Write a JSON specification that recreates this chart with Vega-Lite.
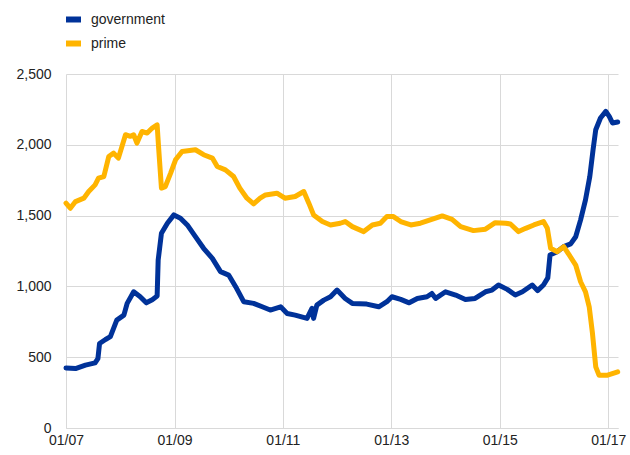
{
  "$schema": "https://vega.github.io/schema/vega-lite/v6.json",
  "autosize": {"type": "none"},
  "padding": {"left": 66, "top": 74, "right": 12, "bottom": 27},
  "width": 552,
  "height": 354,
  "background": "white",
  "config": {
    "view": {"stroke": null},
    "font": "Liberation Sans",
    "axis": {"labelFont": "Liberation Sans", "labelColor": "#222222", "labelFontSize": 14, "gridColor": "#d9d9d9", "gridWidth": 1, "ticks": false, "title": null},
    "legend": {"labelFont": "Liberation Sans", "labelFontSize": 14, "labelColor": "#222222"}
  },
  "data": {
    "values": [
      {"d": "2007-01-01", "s": "government", "v": 424},
      {"d": "2007-03-06", "s": "government", "v": 420},
      {"d": "2007-05-12", "s": "government", "v": 444},
      {"d": "2007-07-16", "s": "government", "v": 460},
      {"d": "2007-08-04", "s": "government", "v": 490},
      {"d": "2007-08-15", "s": "government", "v": 597},
      {"d": "2007-09-24", "s": "government", "v": 625},
      {"d": "2007-10-27", "s": "government", "v": 645},
      {"d": "2007-12-09", "s": "government", "v": 762},
      {"d": "2008-01-26", "s": "government", "v": 797},
      {"d": "2008-02-17", "s": "government", "v": 880},
      {"d": "2008-04-01", "s": "government", "v": 962},
      {"d": "2008-05-15", "s": "government", "v": 927},
      {"d": "2008-06-25", "s": "government", "v": 884},
      {"d": "2008-08-04", "s": "government", "v": 906},
      {"d": "2008-09-06", "s": "government", "v": 932},
      {"d": "2008-09-13", "s": "government", "v": 1186},
      {"d": "2008-10-05", "s": "government", "v": 1375},
      {"d": "2008-11-14", "s": "government", "v": 1446},
      {"d": "2008-12-28", "s": "government", "v": 1505},
      {"d": "2009-02-10", "s": "government", "v": 1482},
      {"d": "2009-03-28", "s": "government", "v": 1434},
      {"d": "2009-05-22", "s": "government", "v": 1351},
      {"d": "2009-07-16", "s": "government", "v": 1269},
      {"d": "2009-09-13", "s": "government", "v": 1198},
      {"d": "2009-11-07", "s": "government", "v": 1104},
      {"d": "2010-01-01", "s": "government", "v": 1080},
      {"d": "2010-02-17", "s": "government", "v": 998},
      {"d": "2010-04-13", "s": "government", "v": 891},
      {"d": "2010-06-18", "s": "government", "v": 880},
      {"d": "2010-08-15", "s": "government", "v": 856},
      {"d": "2010-10-08", "s": "government", "v": 833},
      {"d": "2010-12-17", "s": "government", "v": 856},
      {"d": "2011-01-30", "s": "government", "v": 809},
      {"d": "2011-03-25", "s": "government", "v": 797},
      {"d": "2011-05-01", "s": "government", "v": 786},
      {"d": "2011-06-13", "s": "government", "v": 774},
      {"d": "2011-07-16", "s": "government", "v": 845},
      {"d": "2011-07-27", "s": "government", "v": 774},
      {"d": "2011-08-18", "s": "government", "v": 868},
      {"d": "2011-10-04", "s": "government", "v": 903},
      {"d": "2011-11-18", "s": "government", "v": 927},
      {"d": "2012-01-01", "s": "government", "v": 974},
      {"d": "2012-02-25", "s": "government", "v": 915},
      {"d": "2012-04-13", "s": "government", "v": 880},
      {"d": "2012-07-19", "s": "government", "v": 875},
      {"d": "2012-10-08", "s": "government", "v": 856},
      {"d": "2012-12-02", "s": "government", "v": 892},
      {"d": "2013-01-05", "s": "government", "v": 927},
      {"d": "2013-03-05", "s": "government", "v": 908},
      {"d": "2013-05-01", "s": "government", "v": 884},
      {"d": "2013-06-25", "s": "government", "v": 915},
      {"d": "2013-08-29", "s": "government", "v": 927},
      {"d": "2013-10-01", "s": "government", "v": 950},
      {"d": "2013-10-27", "s": "government", "v": 915},
      {"d": "2014-01-01", "s": "government", "v": 962},
      {"d": "2014-03-10", "s": "government", "v": 939},
      {"d": "2014-05-15", "s": "government", "v": 908},
      {"d": "2014-07-19", "s": "government", "v": 915},
      {"d": "2014-09-27", "s": "government", "v": 962},
      {"d": "2014-11-10", "s": "government", "v": 974},
      {"d": "2014-12-24", "s": "government", "v": 1010},
      {"d": "2015-02-21", "s": "government", "v": 979},
      {"d": "2015-04-16", "s": "government", "v": 939},
      {"d": "2015-06-03", "s": "government", "v": 962},
      {"d": "2015-08-08", "s": "government", "v": 1010},
      {"d": "2015-09-13", "s": "government", "v": 970},
      {"d": "2015-10-23", "s": "government", "v": 1010},
      {"d": "2015-11-21", "s": "government", "v": 1060},
      {"d": "2015-12-06", "s": "government", "v": 1222},
      {"d": "2016-01-23", "s": "government", "v": 1245},
      {"d": "2016-03-07", "s": "government", "v": 1281},
      {"d": "2016-04-23", "s": "government", "v": 1300},
      {"d": "2016-05-27", "s": "government", "v": 1351},
      {"d": "2016-06-29", "s": "government", "v": 1470},
      {"d": "2016-08-01", "s": "government", "v": 1611},
      {"d": "2016-08-30", "s": "government", "v": 1776},
      {"d": "2016-09-21", "s": "government", "v": 1965},
      {"d": "2016-10-09", "s": "government", "v": 2106},
      {"d": "2016-11-10", "s": "government", "v": 2189},
      {"d": "2016-12-16", "s": "government", "v": 2236},
      {"d": "2017-01-08", "s": "government", "v": 2201},
      {"d": "2017-01-30", "s": "government", "v": 2154},
      {"d": "2017-03-06", "s": "government", "v": 2161},
      {"d": "2007-01-01", "s": "prime", "v": 1588},
      {"d": "2007-01-30", "s": "prime", "v": 1552},
      {"d": "2007-03-06", "s": "prime", "v": 1599},
      {"d": "2007-05-01", "s": "prime", "v": 1623},
      {"d": "2007-06-03", "s": "prime", "v": 1670},
      {"d": "2007-07-16", "s": "prime", "v": 1717},
      {"d": "2007-08-08", "s": "prime", "v": 1764},
      {"d": "2007-09-13", "s": "prime", "v": 1776},
      {"d": "2007-10-16", "s": "prime", "v": 1917},
      {"d": "2007-11-18", "s": "prime", "v": 1941},
      {"d": "2007-12-20", "s": "prime", "v": 1906},
      {"d": "2008-02-06", "s": "prime", "v": 2071},
      {"d": "2008-03-10", "s": "prime", "v": 2060},
      {"d": "2008-04-01", "s": "prime", "v": 2071},
      {"d": "2008-04-23", "s": "prime", "v": 2012},
      {"d": "2008-05-27", "s": "prime", "v": 2094},
      {"d": "2008-07-01", "s": "prime", "v": 2083},
      {"d": "2008-08-04", "s": "prime", "v": 2118},
      {"d": "2008-09-06", "s": "prime", "v": 2141},
      {"d": "2008-09-17", "s": "prime", "v": 1965},
      {"d": "2008-10-05", "s": "prime", "v": 1694},
      {"d": "2008-10-31", "s": "prime", "v": 1705},
      {"d": "2008-12-06", "s": "prime", "v": 1800},
      {"d": "2009-01-08", "s": "prime", "v": 1894},
      {"d": "2009-02-21", "s": "prime", "v": 1953},
      {"d": "2009-05-22", "s": "prime", "v": 1965},
      {"d": "2009-07-16", "s": "prime", "v": 1930},
      {"d": "2009-09-13", "s": "prime", "v": 1906},
      {"d": "2009-10-16", "s": "prime", "v": 1847},
      {"d": "2009-12-10", "s": "prime", "v": 1823},
      {"d": "2010-02-03", "s": "prime", "v": 1776},
      {"d": "2010-03-17", "s": "prime", "v": 1694},
      {"d": "2010-05-04", "s": "prime", "v": 1623},
      {"d": "2010-06-18", "s": "prime", "v": 1583},
      {"d": "2010-08-01", "s": "prime", "v": 1623},
      {"d": "2010-09-06", "s": "prime", "v": 1646},
      {"d": "2010-11-22", "s": "prime", "v": 1658},
      {"d": "2011-01-15", "s": "prime", "v": 1623},
      {"d": "2011-03-25", "s": "prime", "v": 1635},
      {"d": "2011-05-22", "s": "prime", "v": 1670},
      {"d": "2011-06-25", "s": "prime", "v": 1588},
      {"d": "2011-07-27", "s": "prime", "v": 1505},
      {"d": "2011-09-24", "s": "prime", "v": 1458},
      {"d": "2011-11-18", "s": "prime", "v": 1434},
      {"d": "2012-01-23", "s": "prime", "v": 1446},
      {"d": "2012-02-25", "s": "prime", "v": 1458},
      {"d": "2012-04-13", "s": "prime", "v": 1422},
      {"d": "2012-06-29", "s": "prime", "v": 1387},
      {"d": "2012-08-26", "s": "prime", "v": 1434},
      {"d": "2012-10-19", "s": "prime", "v": 1446},
      {"d": "2012-12-02", "s": "prime", "v": 1493},
      {"d": "2013-01-15", "s": "prime", "v": 1493},
      {"d": "2013-03-05", "s": "prime", "v": 1458},
      {"d": "2013-05-12", "s": "prime", "v": 1434},
      {"d": "2013-07-16", "s": "prime", "v": 1446},
      {"d": "2013-09-20", "s": "prime", "v": 1469},
      {"d": "2013-12-10", "s": "prime", "v": 1498},
      {"d": "2014-02-14", "s": "prime", "v": 1474},
      {"d": "2014-04-13", "s": "prime", "v": 1422},
      {"d": "2014-07-08", "s": "prime", "v": 1394},
      {"d": "2014-09-27", "s": "prime", "v": 1404},
      {"d": "2014-12-02", "s": "prime", "v": 1450},
      {"d": "2015-02-10", "s": "prime", "v": 1446},
      {"d": "2015-03-14", "s": "prime", "v": 1441},
      {"d": "2015-05-08", "s": "prime", "v": 1387},
      {"d": "2015-06-25", "s": "prime", "v": 1410},
      {"d": "2015-08-19", "s": "prime", "v": 1434},
      {"d": "2015-10-23", "s": "prime", "v": 1458},
      {"d": "2015-11-18", "s": "prime", "v": 1410},
      {"d": "2015-12-10", "s": "prime", "v": 1269},
      {"d": "2016-01-23", "s": "prime", "v": 1245},
      {"d": "2016-03-07", "s": "prime", "v": 1281},
      {"d": "2016-04-13", "s": "prime", "v": 1222},
      {"d": "2016-05-27", "s": "prime", "v": 1151},
      {"d": "2016-06-29", "s": "prime", "v": 1033},
      {"d": "2016-08-01", "s": "prime", "v": 962},
      {"d": "2016-08-26", "s": "prime", "v": 856},
      {"d": "2016-09-17", "s": "prime", "v": 668},
      {"d": "2016-10-09", "s": "prime", "v": 432},
      {"d": "2016-10-31", "s": "prime", "v": 373},
      {"d": "2016-12-28", "s": "prime", "v": 373},
      {"d": "2017-03-06", "s": "prime", "v": 396}
    ]
  },
  "mark": {"type": "line", "strokeWidth": 5, "strokeJoin": "round", "strokeCap": "round", "interpolate": "linear"},
  "encoding": {
    "x": {
      "field": "d", "type": "temporal",
      "scale": {"domain": [{"year": 2007, "month": 1, "date": 1}, {"year": 2017, "month": 3, "date": 8}], "nice": false},
      "axis": {
        "values": [{"year": 2007, "month": 1, "date": 1}, {"year": 2009, "month": 1, "date": 1}, {"year": 2011, "month": 1, "date": 1}, {"year": 2013, "month": 1, "date": 1}, {"year": 2015, "month": 1, "date": 1}, {"year": 2017, "month": 1, "date": 1}],
        "format": "%m/%y", "grid": true, "domain": true, "domainColor": "#d9d9d9", "domainWidth": 1, "labelPadding": 5, "labelFlush": false
      }
    },
    "y": {
      "field": "v", "type": "quantitative",
      "scale": {"domain": [0, 2500], "nice": false},
      "axis": {"values": [0, 500, 1000, 1500, 2000, 2500], "format": ",d", "grid": true, "domain": false, "labelPadding": 15}
    },
    "color": {
      "field": "s", "type": "nominal",
      "scale": {"domain": ["government", "prime"], "range": ["#003299", "#FFB400"]},
      "legend": {"title": null, "orient": "none", "legendX": -3, "legendY": -65, "direction": "vertical", "symbolType": "stroke", "symbolSize": 225, "symbolStrokeWidth": 6, "labelOffset": 7, "rowPadding": -1, "padding": 0}
    }
  }
}
